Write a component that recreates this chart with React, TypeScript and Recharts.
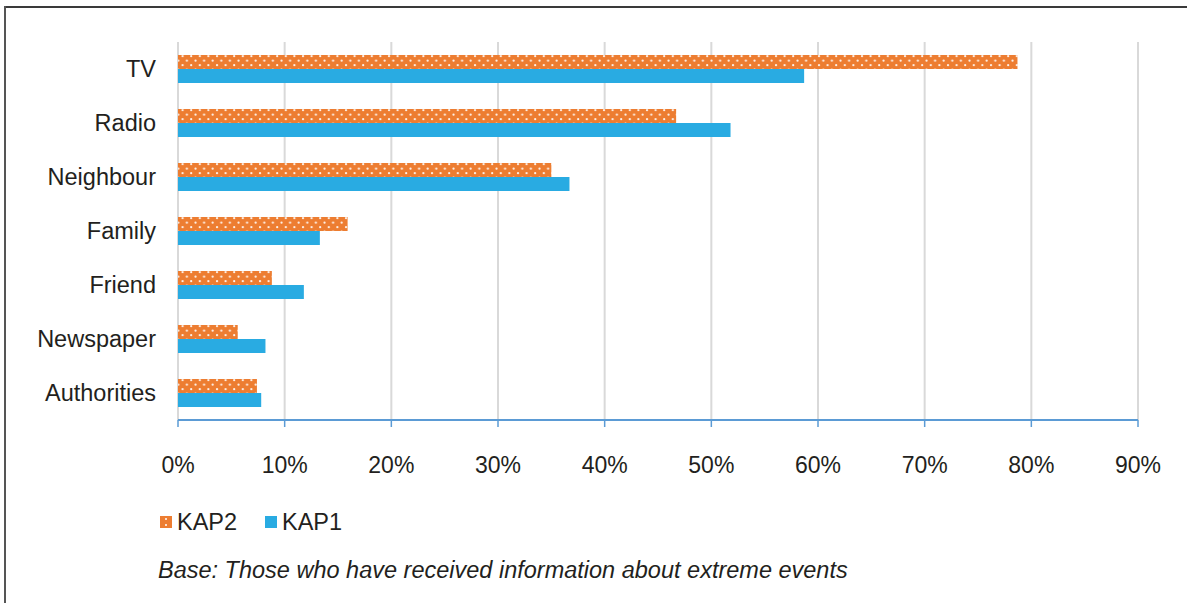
import React from "react";
import { BarChart, Bar, XAxis, YAxis, CartesianGrid } from "recharts";

const categories = ["TV", "Radio", "Neighbour", "Family", "Friend", "Newspaper", "Authorities"];
const kap2Values = [78.7, 46.7, 35.0, 15.9, 8.8, 5.6, 7.4];
const kap1Values = [58.7, 51.8, 36.7, 13.3, 11.8, 8.2, 7.8];
const xTicks = [0, 10, 20, 30, 40, 50, 60, 70, 80, 90];
const seriesNames = ["KAP2", "KAP1"];
const footnote = "Base: Those who have received information about extreme events";

const ORANGE = "#ED7D31";
const BLUE = "#29ABE2";
const TEXT = "#231F20";
const FONT = "'Liberation Sans', Arial, sans-serif";

const data = categories.map((c, i) => ({ name: c, kap2: kap2Values[i], kap1: kap1Values[i] }));

export default function App() {
  return (
    <div style={{ position: "absolute", left: 0, top: 0, width: 1187, height: 603, background: "#fff", fontFamily: FONT }}>
      <svg width={0} height={0} style={{ position: "absolute" }}>
        <defs>
          <pattern id="dots" patternUnits="userSpaceOnUse" width={8.6} height={9} x={0} y={0}>
            <rect width={8.6} height={9} fill={ORANGE} />
            <circle cx={2} cy={2.2} r={1.1} fill="#fff" fillOpacity={0.9} />
            <circle cx={6.3} cy={6.7} r={1.1} fill="#fff" fillOpacity={0.9} />
          </pattern>
        </defs>
      </svg>
      {/* frame */}
      <div style={{ position: "absolute", left: 4, top: 6, width: 1183, height: 2, background: "#3a3a3a" }} />
      <div style={{ position: "absolute", left: 4, top: 6, width: 2, height: 597, background: "#555" }} />
      <div style={{ position: "absolute", left: 0, top: 0 }}>
        <BarChart
          width={1187}
          height={603}
          data={data}
          layout="vertical"
          margin={{ top: 42, right: 49, bottom: 123, left: 0 }}
          barCategoryGap="24%"
          barGap={0}
        >
          <CartesianGrid horizontal={false} vertical={true} stroke="#d9d9d9" strokeWidth={2} />
          <XAxis
            type="number"
            domain={[0, 90]}
            ticks={xTicks}
            interval={0}
            tickFormatter={(v: number) => `${v}%`}
            axisLine={{ stroke: "#5B9BD5", strokeWidth: 2 }}
            tickLine={{ stroke: "#5B9BD5", strokeWidth: 1.5 }}
            tickSize={7}
            tickMargin={30}
            tick={{ fill: TEXT, fontSize: 23, fontFamily: FONT }}
            height={60}
          />
          <YAxis
            type="category"
            dataKey="name"
            width={178}
            axisLine={false}
            tickLine={false}
            tickMargin={16}
            interval={0}
            tick={{ fill: TEXT, fontSize: 23.5, fontFamily: FONT }}
          />
          <Bar dataKey="kap2" fill="url(#dots)" isAnimationActive={false} />
          <Bar dataKey="kap1" fill={BLUE} isAnimationActive={false} />
        </BarChart>
      </div>
      {/* legend */}
      <div style={{ position: "absolute", left: 160, top: 516, width: 12, height: 12 }}>
        <svg width={12} height={12} style={{ display: "block" }}>
          <rect width={12} height={12} fill={ORANGE} />
          <circle cx={6} cy={3} r={1} fill="#fff" />
          <circle cx={6} cy={9} r={1} fill="#fff" />
        </svg>
      </div>
      <div style={{ position: "absolute", left: 177, top: 508, fontSize: 23.5, color: TEXT, lineHeight: "28px" }}>{seriesNames[0]}</div>
      <div style={{ position: "absolute", left: 265, top: 516, width: 12, height: 12, background: BLUE }} />
      <div style={{ position: "absolute", left: 282, top: 508, fontSize: 23.5, color: TEXT, lineHeight: "28px" }}>{seriesNames[1]}</div>
      <div style={{ position: "absolute", left: 158, top: 556, fontSize: 23.5, fontStyle: "italic", color: TEXT, lineHeight: "28px", whiteSpace: "nowrap" }}>{footnote}</div>
    </div>
  );
}
